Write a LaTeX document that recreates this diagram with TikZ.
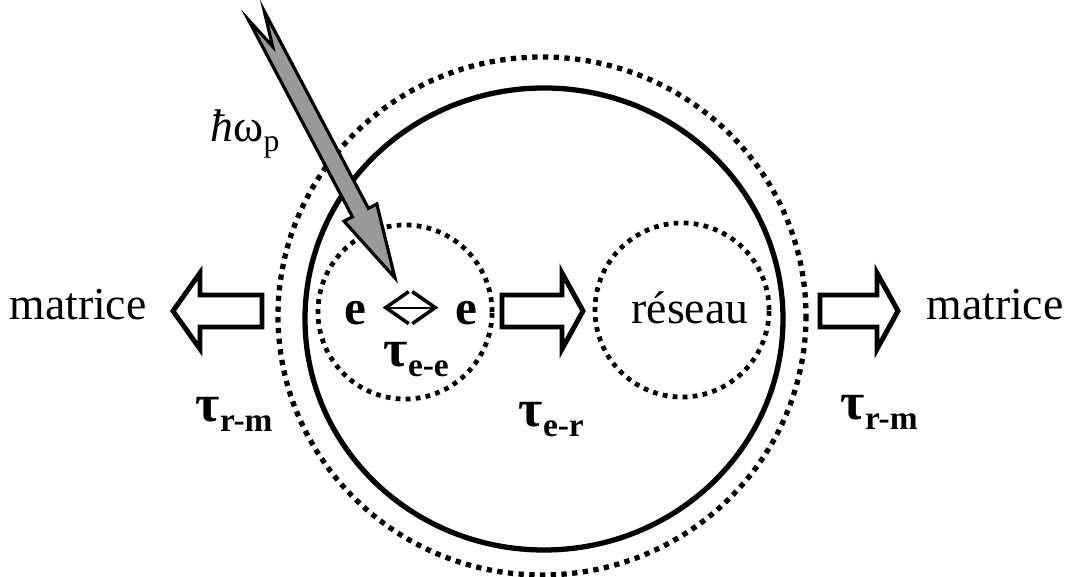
\documentclass[tikz,border=0pt]{standalone}
\usepackage{fontspec}
\setmainfont{Liberation Serif}
\usetikzlibrary{arrows.meta,calc}
\definecolor{beamgray}{HTML}{999999}
\newcommand{\lowidx}[2][9]{\raisebox{-2.6pt}{\fontsize{#1}{11}\selectfont #2}}
\newcommand{\tauidx}[1]{{\fontsize{15}{17}\selectfont\bfseries τ}\lowidx[9.5]{\bfseries #1}}
\tikzset{
  ring/.style={draw,line width=1.5pt},
  dotouter/.style={draw,line width=1.5pt,dash pattern=on 1.5pt off 1.55pt},
  dotring/.style={circle,draw,line width=1.35pt,dash pattern=on 1.35pt off 1.5pt,
                  inner sep=0pt,minimum size=1.74cm},
  lbl/.style={anchor=base,inner sep=0pt},
  elbl/.style={anchor=base,inner sep=0pt,font=\fontsize{14}{16}\selectfont\bfseries},
  fatarr/.style={draw,fill=white,line width=1.4pt,line join=miter},
  beam/.style={draw,fill=beamgray,line width=0.9pt,line join=miter},
  eearr/.style={{Straight Barb[length=0.23cm,width=0.32cm,line width=1pt]}-{Straight Barb[length=0.23cm,width=0.32cm,line width=1pt]},
                line width=0.5pt}
}
\begin{document}
\begin{tikzpicture}[x=0.01cm,y=-0.01cm,font=\fontsize{13}{15}\selectfont]
  \useasboundingbox (0,0) rectangle (1073,577);

  % nanoparticule
  \draw[dotouter] (542,316) ellipse [x radius=264,y radius=259];
  \draw[ring] (544,319) ellipse [x radius=239,y radius=231];

  \node[dotring] (gas) at (405,312) {};
  \node[dotring] (lattice) at (682,310) {};
  \node[lbl] (latticetxt) at (690,324) {réseau};

  \node[elbl] (e1) at (355,325) {e};
  \node[elbl] (e2) at (466,325) {e};
  \draw[eearr,shorten <=0.16cm,shorten >=0.16cm]
    ([yshift=0.06cm]e1.east) -- ([yshift=0.06cm]e2.west);

  % echanges
  \draw[fatarr] (262,295) -- (200,295) -- (200,273) -- (173,311)
    -- (200,349) -- (200,327) -- (262,327) -- cycle;
  \draw[fatarr] (502,295) -- (562,295) -- (562,273) -- (583,311)
    -- (562,349) -- (562,327) -- (502,327) -- cycle;
  \draw[fatarr] (820,295) -- (877,295) -- (877,273) -- (898,311)
    -- (877,349) -- (877,327) -- (820,327) -- cycle;

  \node[lbl] (matl) at (78,320) {matrice};
  \node[lbl] (matr) at (995,320) {matrice};

  \node[lbl,anchor=base west] (tee) at (383,367) {\tauidx{e-e}};
  \node[lbl,anchor=base west] (ter) at (518,427) {\tauidx{e-r}};
  \node[lbl,anchor=base west] (trml) at (195,422) {\tauidx{r-m}};
  \node[lbl,anchor=base west] (trmr) at (840,420) {\tauidx{r-m}};

  % pompe
  \node[lbl] (pump) at (245,142) {{\itshape ħ}ω\lowidx{p}};
  \draw[beam] (395,278) -- (376.8,204.0) -- (368.4,208.4) -- (264.3,11.3)
    -- (272.6,46.4) -- (248.3,19.7) -- (352.4,216.8) -- (344.0,221.2) -- cycle;
\end{tikzpicture}
\end{document}
